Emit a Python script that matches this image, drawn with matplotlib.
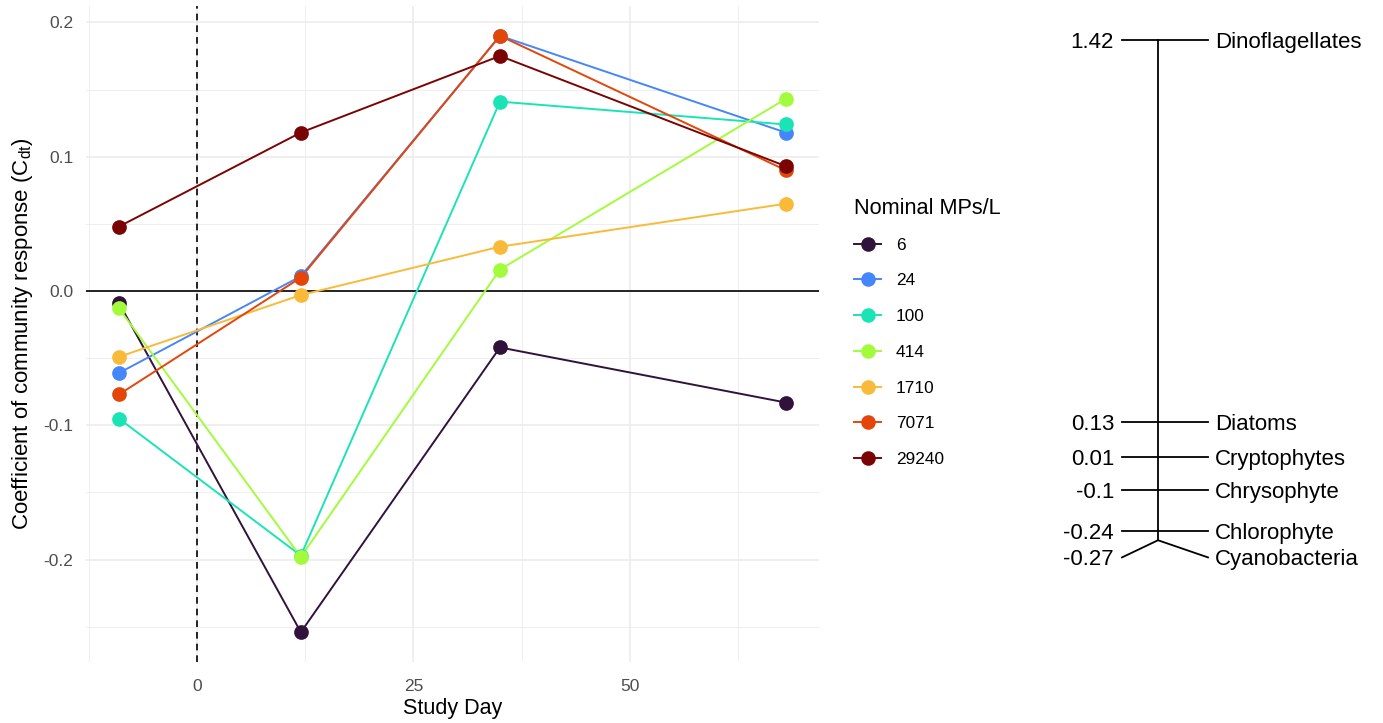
import matplotlib
matplotlib.use('Agg')
import matplotlib.pyplot as plt
from matplotlib.lines import Line2D
from matplotlib.ticker import MultipleLocator

plt.rcParams['font.family'] = ['Liberation Sans', 'DejaVu Sans']
plt.rcParams['mathtext.fontset'] = 'custom'
plt.rcParams['mathtext.rm'] = 'Liberation Sans'

# Community response per nominal concentration, by study day
days = [-9, 12, 35, 68]
conc_labels = ['6', '24', '100', '414', '1710', '7071', '29240']
c_6 = [-0.009, -0.254, -0.042, -0.083]
c_24 = [-0.061, 0.011, 0.190, 0.118]
c_100 = [-0.095, -0.197, 0.141, 0.124]
c_414 = [-0.013, -0.198, 0.016, 0.143]
c_1710 = [-0.049, -0.003, 0.033, 0.065]
c_7071 = [-0.077, 0.010, 0.190, 0.090]
c_29240 = [0.048, 0.118, 0.175, 0.093]
series = [c_6, c_24, c_100, c_414, c_1710, c_7071, c_29240]

# turbo palette, 7 levels
colors = ['#30123B', '#4686FB', '#1AE4B6', '#A2FC3C', '#FABA39', '#E4460A', '#7A0403']

# Taxon weights for the response axis
taxa = ['Dinoflagellates', 'Diatoms', 'Cryptophytes', 'Chrysophyte', 'Chlorophyte', 'Cyanobacteria']
weights = [1.42, 0.13, 0.01, -0.1, -0.24, -0.27]

fig = plt.figure(figsize=(13.83, 7.23), dpi=100)
ax = fig.add_axes([85.7 / 1383, 1 - 662 / 723, (819 - 85.7) / 1383, (662 - 6) / 723])

# lines first, then points on top of every line
for vals, col in zip(series, colors):
    ax.plot(days, vals, color=col, lw=1.4, zorder=3)
for vals, col in zip(series, colors):
    ax.scatter(days, vals, color=col, s=112, zorder=4, linewidths=0)

ax.axhline(0, color='black', lw=1.2, zorder=2)
ax.axvline(0, color='black', lw=1.2, ls=(0, (4, 3)), zorder=2)

ax.set_xlim(-12.85, 71.85)
ax.set_ylim(-0.2762, 0.2122)
ax.xaxis.set_major_locator(MultipleLocator(25))
ax.xaxis.set_minor_locator(MultipleLocator(12.5))
ax.yaxis.set_major_locator(MultipleLocator(0.1))
ax.yaxis.set_minor_locator(MultipleLocator(0.05))
ax.set_yticks([-0.2, -0.1, 0.0, 0.1, 0.2])
ax.set_yticklabels(['-0.2', '-0.1', '0.0', '0.1', '0.2'])
ax.grid(which='major', color='#EBEBEB', lw=1.1, zorder=0)
ax.grid(which='minor', color='#EBEBEB', lw=0.6, zorder=0)
ax.set_axisbelow(True)
for s in ax.spines.values():
    s.set_visible(False)
ax.tick_params(which='both', length=0, labelsize=12.5, labelcolor='#4D4D4D')
ax.tick_params(axis='x', pad=12)
ax.tick_params(axis='y', pad=9)
ax.set_xlabel('Study Day', fontsize=15.5, labelpad=3)
ax.set_ylabel(r'Coefficient of community response (C$_{\mathrm{dt}}$)', fontsize=16, labelpad=6)

handles = [Line2D([0], [0], color=c, lw=1.4, marker='o', markersize=10.5, markeredgewidth=0)
           for c in colors]
leg = fig.legend(handles, conc_labels, title='Nominal MPs/L', loc='upper left',
                 bbox_to_anchor=(847 / 1383, 1 - 191 / 723), frameon=False,
                 fontsize=12.4, title_fontsize=15.7, handlelength=1.6,
                 labelspacing=1.2, handletextpad=0.85, borderaxespad=0)
leg._legend_box.align = 'left'
leg._legend_box.sep = 13.5

# Right-hand panel: taxon weights on a vertical scale
rx = fig.add_axes([1050 / 1383, 0, 333 / 1383, 1])
rx.set_xlim(0, 333)
rx.set_ylim(1.42 - 683 / 296, 1.42 + 40 / 296)
rx.axis('off')

# push labels apart where weights sit too close together
min_gap = 0.088
label_y = []
for w in weights:
    if label_y and label_y[-1] - w < min_gap:
        label_y.append(label_y[-1] - min_gap)
    else:
        label_y.append(w)

x_mid = 108
rx.plot([x_mid, x_mid], [weights[0], weights[-1]], color='black', lw=1.3)
for name, w, ly in zip(taxa, weights, label_y):
    rx.plot([72, x_mid, 158], [ly, w, ly], color='black', lw=1.3)
    rx.text(64, ly, f'{w:g}', ha='right', va='center_baseline', fontsize=16)
    rx.text(165, ly, name, ha='left', va='center_baseline', fontsize=16)

fig.savefig('out.png', dpi=100)
